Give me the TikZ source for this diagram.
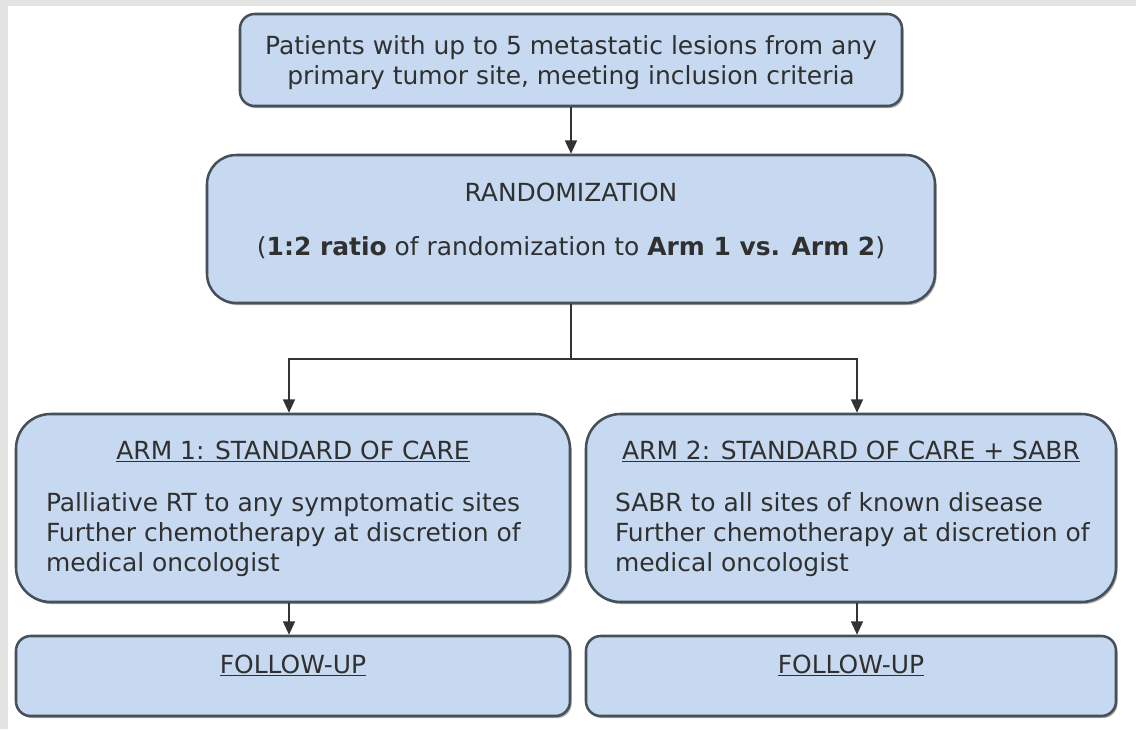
\documentclass[tikz,border=0pt]{standalone}
\usepackage{fontspec}
\setmainfont{DejaVu Sans}
\usepackage{tikz}
\usetikzlibrary{arrows.meta,positioning,calc,shadows}
\usepackage{xcolor}
\definecolor{boxfill}{RGB}{198,217,240}
\definecolor{boxline}{RGB}{70,80,90}
\definecolor{txt}{RGB}{48,48,48}
\definecolor{frame}{RGB}{227,227,225}

\begin{document}
\begin{tikzpicture}[x=0.75pt,y=-0.75pt,
  box/.style={draw=boxline,line width=1.9pt,fill=boxfill,rounded corners=#1,
    drop shadow={shadow xshift=1.2pt,shadow yshift=-1.6pt,opacity=.45,fill=black!70},
    text=txt,font=\fontsize{18.7}{22.5}\selectfont},
  box/.default=11pt,
  head/.style={inner sep=0pt,text=txt,font=\fontsize{18.7}{22.5}\selectfont},
  body/.style={inner sep=0pt,text=txt,align=left,anchor=north west,font=\fontsize{18.7}{22.5}\selectfont},
  conn/.style={draw=black!80,line width=1.2pt},
  arr/.style={conn,-{Triangle[length=10pt,width=9pt]}}]
\useasboundingbox (0,0) rectangle (1136,729);
\fill[frame] (0,0) rectangle (1136,729);
\fill[white] (8,6) rectangle (1136,729);

\node[box,minimum width=496.5pt,minimum height=69pt,align=center,text depth=0pt] (top) at (571,60)
  {Patients with up to 5 metastatic lesions from any\\primary tumor site, meeting inclusion criteria};
\node[box=22pt,minimum width=546pt,minimum height=111pt,align=center,text depth=15pt] (rand) at (571,229)
  {RANDOMIZATION\\[18pt](\textbf{1:2 ratio} of randomization to \textbf{Arm 1 vs. Arm 2})};

\node[box=26pt,minimum width=415.5pt,minimum height=141pt] (arm1) at (293,508) {};
\node[box=26pt,minimum width=397.5pt,minimum height=141pt] (arm2) at (851,508) {};
\node[head,below=21pt of arm1.north] (arm1h) {\underline{ARM 1: STANDARD OF CARE}};
\node[head,below=21pt of arm2.north] (arm2h) {\underline{ARM 2: STANDARD OF CARE + SABR}};
\node[body] (arm1b) at ($(arm1.north west)+(31,80)$)
  {Palliative RT to any symptomatic sites\\Further chemotherapy at discretion of\\medical oncologist};
\node[body] (arm2b) at ($(arm2.north west)+(30,80)$)
  {SABR to all sites of known disease\\Further chemotherapy at discretion of\\medical oncologist};

\node[box,minimum width=415.5pt,minimum height=60pt] (fu1) at (293,676) {};
\node[box,minimum width=397.5pt,minimum height=60pt] (fu2) at (851,676) {};
\node[head,below=15pt of fu1.north] (fu1h) {\underline{FOLLOW-UP}};
\node[head,below=15pt of fu2.north] (fu2h) {\underline{FOLLOW-UP}};

\coordinate (split) at ($(rand.south)+(0,55)$);
\draw[arr] (top) -- (rand);
\draw[conn] (rand.south) -- (split);
\draw[arr] (split) -| ([xshift=-3pt]arm1.north);
\draw[arr] (split) -| ([xshift=4.5pt]arm2.north);
\draw[arr] ([xshift=-3pt]arm1.south) -- ([xshift=-3pt]fu1.north);
\draw[arr] ([xshift=4.5pt]arm2.south) -- ([xshift=4.5pt]fu2.north);
\end{tikzpicture}
\end{document}
